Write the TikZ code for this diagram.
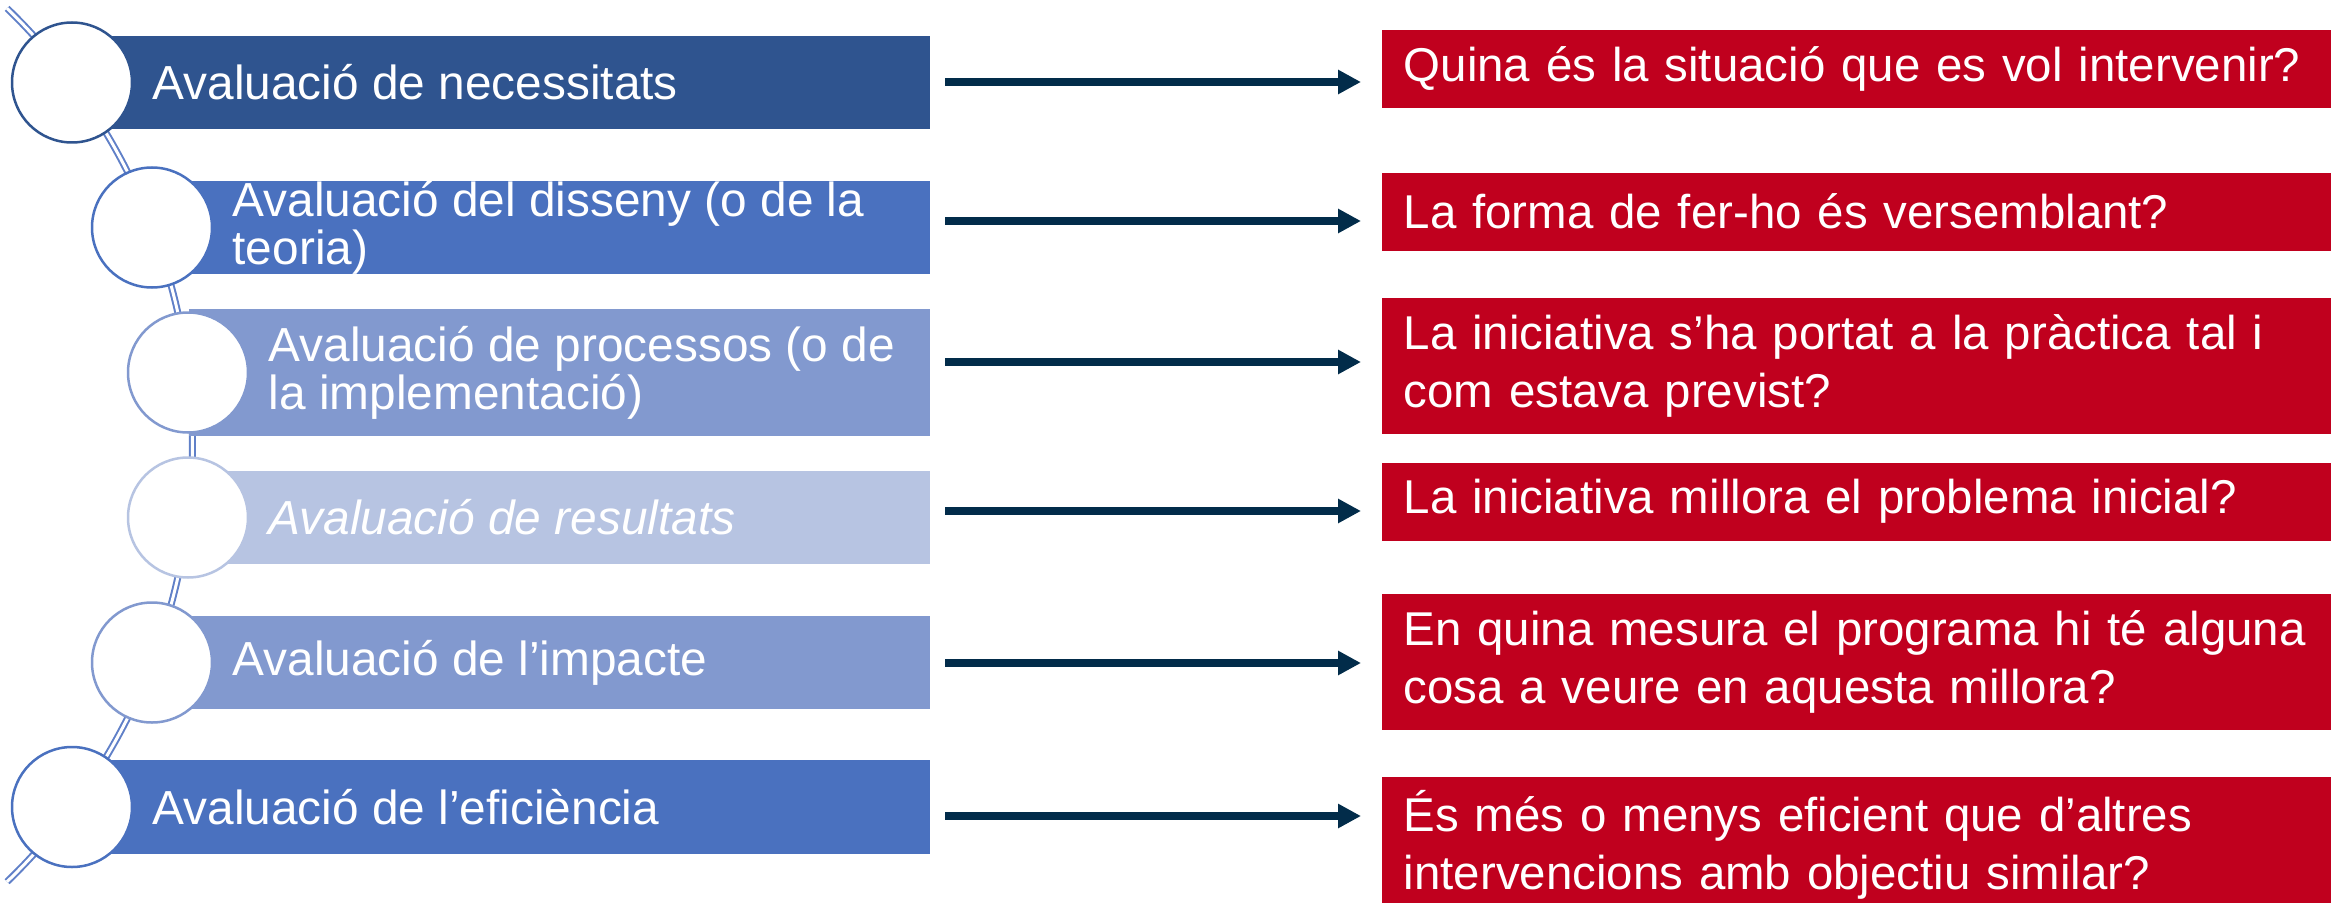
\documentclass[tikz,border=0pt]{standalone}
\usepackage{fontspec}
\setmainfont{Liberation Sans}
\usetikzlibrary{arrows.meta}
\definecolor{blueA}{RGB}{47,84,143}
\definecolor{blueB}{RGB}{74,113,191}
\definecolor{blueC}{RGB}{130,153,207}
\definecolor{blueD}{RGB}{183,196,226}
\definecolor{lineblue}{RGB}{96,128,200}
\definecolor{redbox}{RGB}{192,0,30}
\definecolor{navy}{RGB}{2,44,74}
\tikzset{
  bar/.style={anchor=west, inner sep=0pt},
  dot/.style={circle, fill=white, line width=.25mm, minimum size=12mm, inner sep=0pt},
  lbl/.style={anchor=west, inner sep=0pt, text=white, align=left, font=\fontsize{13.6}{13.7}\selectfont},
  ask/.style={anchor=north west, fill=redbox, text=white, inner xsep=2.2mm, inner ysep=0pt, minimum width=95mm, text width=92.6mm, align=left, font=\fontsize{13.5}{16.5}\selectfont},
  link/.style={navy, line width=.8mm, -{Triangle[length=2.3mm,width=2.3mm]}, shorten <=1.5mm, shorten >=2mm}
}
\begin{document}
\begin{tikzpicture}[x=.1mm, y=-.1mm]
\useasboundingbox (0,0) rectangle (2331,903);

% line behind the circles
\draw[lineblue, double, double distance=.3mm, line width=.2mm] (7.1,8.4) arc[start angle=46, end angle=-46, radius=60.7mm];

\foreach \i/\cx/\cy/\h/\col in {1/72/82.5/9.3/blueA, 2/152/227.5/9.3/blueB, 3/188/372.5/12.7/blueC, 4/188/517.5/9.3/blueD, 5/152/662.5/9.3/blueC, 6/72/807/9.4/blueB}
{
    \node[bar, fill=\col, minimum height=\h mm, minimum width={(929-\cx)*.1mm}] (bar\i) at (\cx,\cy) {};
    \node[dot, draw=\col] (c\i) at (\cx,\cy) {};
}

\node[lbl] (t1) at (152,82.5) {Avaluació de necessitats};
\node[lbl] (t2) at (232,227.5) {Avaluació del disseny (o de la\\teoria)};
\node[lbl] (t3) at (268,372.5) {Avaluació de processos (o de\\la implementació)};
\node[lbl, font=\fontsize{13.6}{13.7}\selectfont\itshape] (t4) at (268,517.5) {Avaluació de resultats};
\node[lbl] (t5) at (232,662.5) {Avaluació de l’impacte};
\node[lbl] (t6) at (152,807) {Avaluació de l’eficiència};

% questions
\node[ask, minimum height=7.8mm] (q1) at (1381,29) {Quina és la situació que es vol intervenir?};
\node[ask, minimum height=7.8mm] (q2) at (1381,172) {La forma de fer-ho és versemblant?};
\node[ask, minimum height=13.6mm] (q3) at (1381,297) {La iniciativa s’ha portat a la pràctica tal i\\com estava previst?};
\node[ask, minimum height=7.8mm] (q4) at (1381,462) {La iniciativa millora el problema inicial?};
\node[ask, minimum height=13.6mm] (q5) at (1381,593) {En quina mesura el programa hi té alguna\\cosa a veure en aquesta millora?};
\node[ask, minimum height=13.6mm] (q6) at (1381,776) {És més o menys eficient que d’altres\\intervencions amb objectiu similar?};

\foreach \i/\y in {1/82,2/221,3/362,4/511,5/663,6/816}
{
    \draw[link] (bar\i.east |- 0,\y) -- (q\i.west |- 0,\y);
}
\end{tikzpicture}
\end{document}
